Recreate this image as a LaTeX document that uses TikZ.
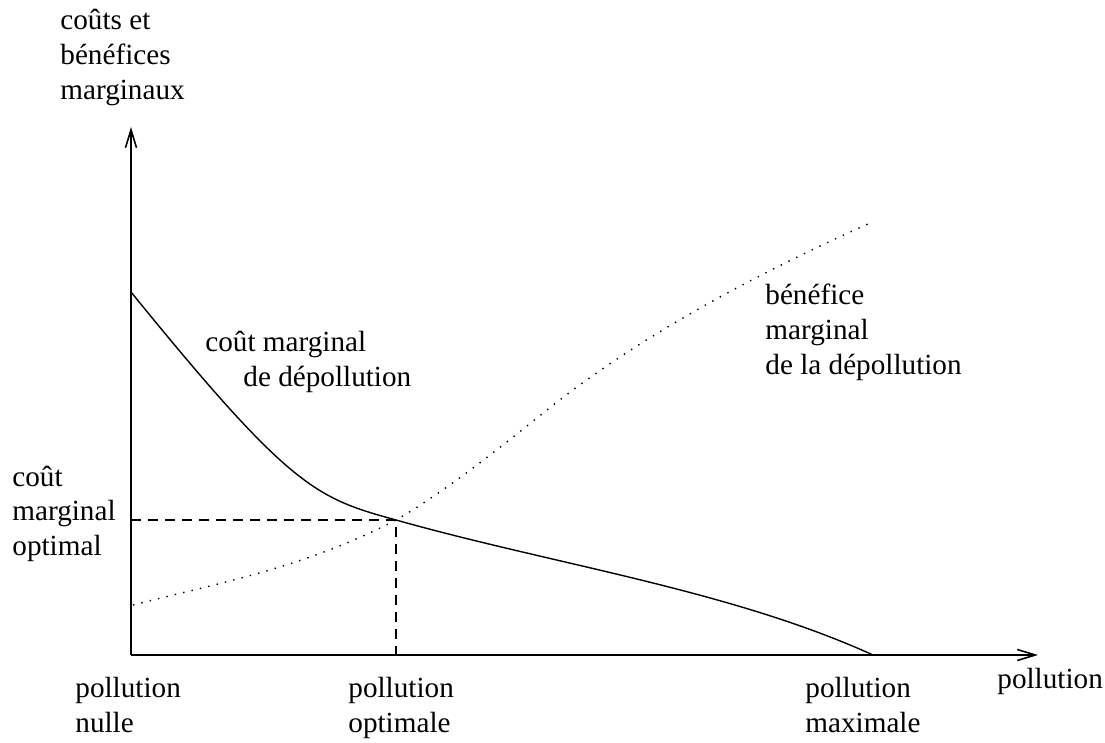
\documentclass[tikz,border=0pt]{standalone}
\usepackage{fontspec}
\setmainfont{Liberation Serif}
\usetikzlibrary{arrows.meta,calc}

\tikzset{
  axis/.style = {line width=0.8pt, -{Straight Barb[length=9pt,width=5.5pt]}},
  curve/.style = {line width=0.7pt},
  guide/.style = {line width=0.6pt, dash pattern=on 5pt off 3.5pt},
  % anchored on the baseline of the last line
  label/.style = {anchor=base west, inner sep=0pt, align=left,
                  font=\fontsize{14.6pt}{17.5pt}\selectfont}
}

\begin{document}
\begin{tikzpicture}[x=0.5pt, y=-0.5pt]
    \useasboundingbox (0,0) rectangle (1105,743);
    % Origin and axes
    \coordinate (O) at (131,655);
    \coordinate (Ytop) at (131,127);
    \coordinate (Xend) at (1038,655);
    \draw[axis] (O) -- (Ytop);
    \draw[axis] (O) -- (Xend);

    % Optimum
    \coordinate (E) at (396,520);
    \coordinate (Ey) at (O |- E);
    \coordinate (Ex) at (E |- O);
    \draw[guide] (Ey) -- (E) -- (Ex);

    % Marginal abatement cost
    \coordinate (C0) at (131,292);
    \coordinate (C1) at (873,655);
    \draw[curve] (C0) .. controls (291,489) and (316,498) .. (E)
        .. controls (556,565) and (730,590) .. (C1);

    % Marginal benefit (dotted)
    \coordinate (B0) at (133,605);
    \coordinate (Bm) at (547,410);
    \coordinate (B1) at (870,223);
    \draw[curve, dash pattern=on 0.7pt off 3.6pt] (B0)
        .. controls (223,582) and (306,567) .. (E)
        .. controls (446,491) and (497,450) .. (Bm)
        .. controls (647,330) and (770,268) .. (B1);

    % Labels
    \node[label] (ylab) at (60,100) {coûts et\\bénéfices\\marginaux};
    \node[label] (xlab) at (997,689) {pollution};
    \node[label] (optc) at (12,556) {coût\\marginal\\optimal};
    \node[label] (nulle) at (75,733) {pollution\\nulle};
    \node[label] (optp) at (348,733) {pollution\\optimale};
    \node[label] (maxp) at (805,733) {pollution\\maximale};
    \node[label] (cm1) at (205,352) {coût marginal};
    \node[label] (cm2) at (243,387) {de dépollution};
    \node[label] (bm) at (765,375) {bénéfice\\marginal\\de la dépollution};
\end{tikzpicture}
\end{document}
